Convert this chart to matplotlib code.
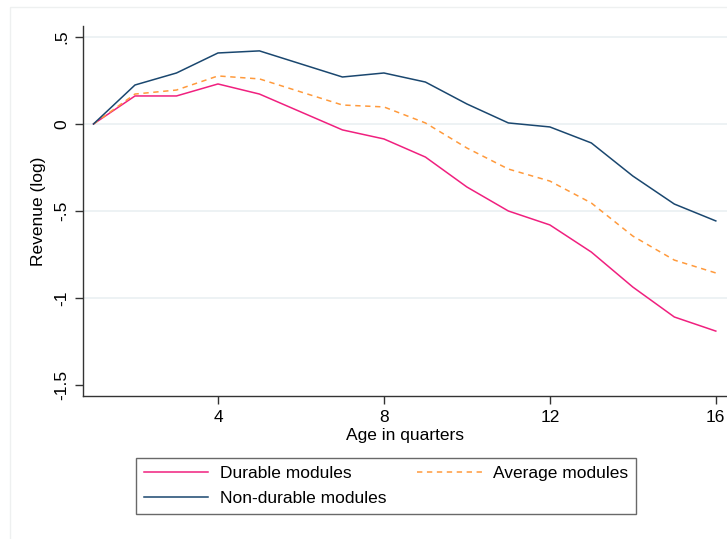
import matplotlib
matplotlib.use("Agg")
import matplotlib.pyplot as plt
from matplotlib.patches import Rectangle

plt.rcParams['font.family'] = ['Liberation Sans', 'DejaVu Sans']

quarters = list(range(1, 17))
durable = [0, 0.161, 0.161, 0.230, 0.172, 0.069, -0.034, -0.086, -0.190, -0.362,
           -0.500, -0.580, -0.736, -0.937, -1.109, -1.190]
average = [0, 0.172, 0.195, 0.276, 0.259, 0.184, 0.109, 0.098, 0.006, -0.138,
           -0.259, -0.328, -0.454, -0.644, -0.782, -0.856]
nondurable = [0, 0.224, 0.293, 0.408, 0.420, 0.345, 0.270, 0.293, 0.241, 0.115,
              0.006, -0.017, -0.109, -0.299, -0.460, -0.557]
xticks = [4, 8, 12, 16]
yticks = [0.5, 0, -0.5, -1, -1.5]
ytick_labels = [".5", "0", "-.5", "-1", "-1.5"]

fig = plt.figure(figsize=(7.27, 5.39), dpi=100)
fig.patch.set_facecolor('white')
# outer light frame
fig.patches.append(Rectangle((10/727, -0.01), 1.1, 1 - 7/539 + 0.01, transform=fig.transFigure,
                             fill=False, edgecolor='#eef0f0', linewidth=1.0))

ax = fig.add_axes([83/727, 1 - 396/539, 1 - 83/727, (396 - 26)/539])
for g in [0.5, 0, -0.5, -1]:
    ax.axhline(g, color='#eaf0f2', linewidth=1.2, zorder=0)

c_dur = '#f0207f'
c_avg = '#ff9a3c'
c_non = '#1a476f'
l1, = ax.plot(quarters, durable, color=c_dur, linewidth=1.1, label='Durable modules')
l2, = ax.plot(quarters, average, color=c_avg, linewidth=1.1, linestyle=(0, (3.5, 3)),
              label='Average modules')
l3, = ax.plot(quarters, nondurable, color=c_non, linewidth=1.1, label='Non-durable modules')

ax.set_xlim(0.747, 16.27)
ax.set_ylim(-1.563, 0.563)
ax.set_xticks(xticks)
ax.set_yticks(yticks)
ax.set_yticklabels(ytick_labels, rotation=90, va='center')
ax.tick_params(axis='both', labelsize=12.5, length=6, width=1, color='#333333', pad=4)
for s in ['top', 'right']:
    ax.spines[s].set_visible(False)
for s in ['left', 'bottom']:
    ax.spines[s].set_color('#333333')
    ax.spines[s].set_linewidth(1.0)
ax.set_xlabel('Age in quarters', fontsize=12.5, labelpad=2)
ax.set_ylabel('Revenue (log)', fontsize=12.5, labelpad=6)

leg = fig.legend(handles=[l1, l3, l2], loc='center',
                 bbox_to_anchor=(386/727, 1 - 486/539), ncol=2, fontsize=12.5,
                 frameon=True, fancybox=False, edgecolor='#444444', handlelength=3.7,
                 columnspacing=1.8, borderpad=0.45, labelspacing=0.55, handletextpad=0.65)
leg.get_frame().set_linewidth(1.0)

fig.savefig('out.png', dpi=100, facecolor='white')
